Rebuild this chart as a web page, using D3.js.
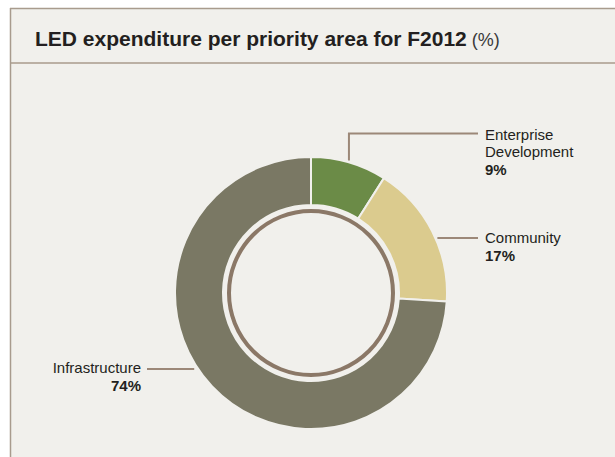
<!DOCTYPE html>
<html>
<head>
<meta charset="utf-8">
<script src="https://cdn.jsdelivr.net/npm/d3@7"></script>
<style>
html,body{margin:0;padding:0;background:#ffffff;}
svg{display:block;font-family:"Liberation Sans",Arial,sans-serif;}
</style>
</head>
<body>
<svg id="chart" width="615" height="457"></svg>
<script>
const categories = ["Enterprise Development", "Community", "Infrastructure"];
const labelLines = [["Enterprise", "Development"], ["Community"], ["Infrastructure"]];
const values = [9, 17, 74];
const colors = ["#6b8b47", "#dbcb8e", "#7a7864"];

const W = 615, H = 457;
const svg = d3.select("#chart");
const bg = "#f1f0ec";

// panel
svg.append("rect").attr("x", 10).attr("y", 8).attr("width", W - 10).attr("height", H - 8).attr("fill", bg);
svg.append("line").attr("x1", 10.5).attr("x2", 10.5).attr("y1", 8).attr("y2", H).attr("stroke", "#a89b8d").attr("stroke-width", 1.5);
svg.append("line").attr("x1", 10).attr("x2", W).attr("y1", 8.5).attr("y2", 8.5).attr("stroke", "#a89b8d").attr("stroke-width", 1.5);
svg.append("line").attr("x1", 10).attr("x2", W).attr("y1", 63).attr("y2", 63).attr("stroke", "#a89b8d").attr("stroke-width", 1.5);

// title
const title = svg.append("text").attr("x", 35).attr("y", 46).attr("fill", "#231f20");
title.append("tspan").attr("font-weight", "bold").attr("font-size", 21).text("LED expenditure per priority area for F2012");
title.append("tspan").attr("font-size", 18).attr("fill", "#3a3a3a").text(" (%)");

// donut
const cx = 311, cy = 293, rOuter = 136, rInner = 88;
const g = svg.append("g").attr("transform", `translate(${cx},${cy})`);
const pie = d3.pie().sort(null).value(d => d)(values);
const arc = d3.arc().innerRadius(rInner).outerRadius(rOuter);
g.selectAll("path").data(pie).join("path")
  .attr("d", arc)
  .attr("fill", (d, i) => colors[i])
  .attr("stroke", bg)
  .attr("stroke-width", 2);
g.append("circle").attr("r", 82).attr("fill", "none").attr("stroke", "#8b7867").attr("stroke-width", 4);

const leaderColor = "#9c8878";
const textColor = "#231f20";

// Enterprise Development leader (elbow)
{
  const a = (pie[0].startAngle + pie[0].endAngle) / 2;
  const px = cx + rOuter * Math.sin(a), py = cy - rOuter * Math.cos(a);
  svg.append("path").attr("d", `M${px},${py - 2}V133.5H478`).attr("fill", "none").attr("stroke", leaderColor).attr("stroke-width", 2);
  const t = svg.append("text").attr("x", 485).attr("y", 140).attr("font-size", 15).attr("fill", textColor);
  labelLines[0].forEach((s, i) => t.append("tspan").attr("x", 485).attr("dy", i ? 17 : 0).text(s));
  t.append("tspan").attr("x", 485).attr("dy", 18).attr("font-weight", "bold").text(values[0] + "%");
}
// Community leader
{
  const ly = 238;
  const px = cx + Math.sqrt(rOuter * rOuter - (ly - cy) * (ly - cy));
  svg.append("line").attr("x1", px + 2).attr("x2", 478).attr("y1", ly).attr("y2", ly).attr("stroke", leaderColor).attr("stroke-width", 2);
  const t = svg.append("text").attr("x", 485).attr("y", 243).attr("font-size", 15).attr("fill", textColor);
  t.append("tspan").attr("x", 485).text(labelLines[1][0]);
  t.append("tspan").attr("x", 485).attr("dy", 18).attr("font-weight", "bold").text(values[1] + "%");
}
// Infrastructure leader
{
  const ly = 369;
  const px = cx - Math.sqrt(rOuter * rOuter - (ly - cy) * (ly - cy));
  svg.append("line").attr("x1", 147).attr("x2", px - 4).attr("y1", ly).attr("y2", ly).attr("stroke", leaderColor).attr("stroke-width", 2);
  const t = svg.append("text").attr("x", 141).attr("y", 373).attr("font-size", 15).attr("fill", textColor).attr("text-anchor", "end");
  t.append("tspan").attr("x", 141).text(labelLines[2][0]);
  t.append("tspan").attr("x", 141).attr("dy", 18).attr("font-weight", "bold").text(values[2] + "%");
}
</script>
</body>
</html>
